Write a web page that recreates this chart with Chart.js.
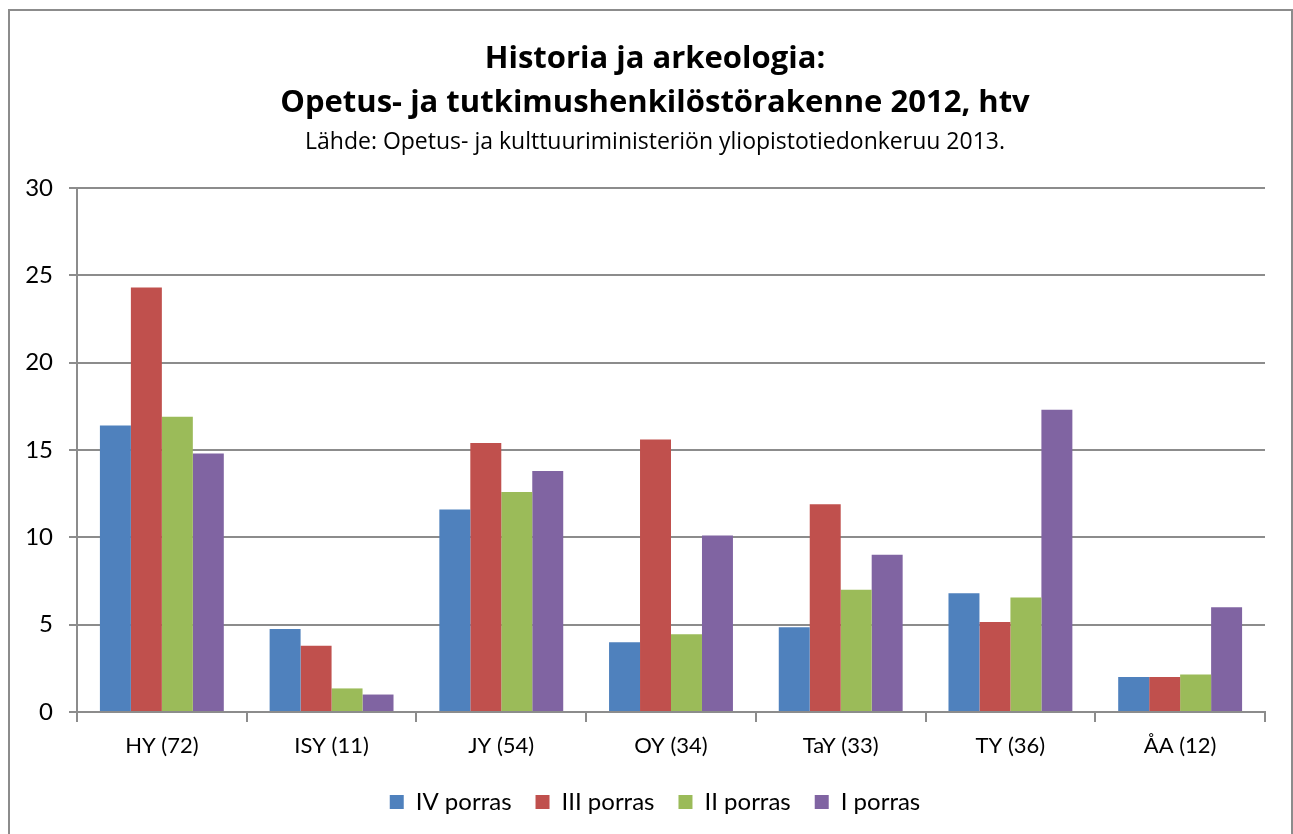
<!DOCTYPE html>
<html>
<head>
<meta charset="utf-8">
<script src="https://cdn.jsdelivr.net/npm/chart.js@4"></script>
<style>
  body { margin: 0; background: #fff; overflow: hidden; }
  #frame {
    position: absolute; left: 8px; top: 9px;
    width: 1281px; height: 830px;
    border: 2px solid #8c8c8c;
  }
</style>
</head>
<body>
<div id="frame"><canvas id="chart" width="1290" height="830"></canvas></div>
<script>
const categories = ['HY (72)', 'ISY (11)', 'JY (54)', 'OY (34)', 'TaY (33)', 'TY (36)', 'ÅA (12)'];
const porras4 = [16.4, 4.75, 11.6, 4.0, 4.85, 6.8, 2.0];
const porras3 = [24.3, 3.8, 15.4, 15.6, 11.9, 5.15, 2.0];
const porras2 = [16.9, 1.35, 12.6, 4.45, 7.0, 6.55, 2.15];
const porras1 = [14.8, 1.0, 13.8, 10.1, 9.0, 17.3, 6.0];
const yTicks = [0, 5, 10, 15, 20, 25, 30];

const FONT = 'Lato, "Open Sans", sans-serif';
const GRID = '#8c8c8c';

new Chart(document.getElementById('chart').getContext('2d'), {
    type: 'bar',
    data: {
        labels: categories,
        datasets: [
            { label: 'IV porras', data: porras4, backgroundColor: '#4F81BD' },
            { label: 'III porras', data: porras3, backgroundColor: '#C0504D' },
            { label: 'II porras', data: porras2, backgroundColor: '#9BBB59' },
            { label: 'I porras', data: porras1, backgroundColor: '#8064A2' }
        ]
    },
    options: {
        responsive: false,
        animation: false,
        datasets: { bar: { categoryPercentage: 0.73, barPercentage: 1.0 } },
        layout: { padding: { left: 0, right: 0, top: 0, bottom: 17 } },
        plugins: {
            title: {
                display: true,
                text: ['Historia ja arkeologia:', 'Opetus- ja tutkimushenkilöstörakenne 2012, htv'],
                color: '#000',
                font: { family: '"Open Sans", Lato, sans-serif', size: 31, weight: 'bold', lineHeight: '44px' },
                padding: { top: 26, bottom: 5 }
            },
            subtitle: {
                display: true,
                text: 'Lähde: Opetus- ja kulttuuriministeriön yliopistotiedonkeruu 2013.',
                color: '#000',
                font: { family: '"Open Sans", Lato, sans-serif', size: 23, lineHeight: '24px' },
                padding: { top: 0, bottom: 34 }
            },
            legend: {
                position: 'bottom',
                labels: {
                    color: '#000',
                    font: { family: FONT, size: 24 },
                    boxWidth: 14,
                    boxHeight: 14,
                    padding: 24
                }
            },
            tooltip: { enabled: false }
        },
        scales: {
            x: {
                grid: { drawOnChartArea: false, drawTicks: true, tickLength: 10, color: GRID, lineWidth: 2 },
                border: { color: GRID, width: 2 },
                ticks: { color: '#000', font: { family: FONT, size: 22 }, padding: 11 },
                afterFit: (scale) => { scale.height = 54; }
            },
            y: {
                min: 0,
                max: 30,
                afterBuildTicks: (scale) => { scale.ticks = yTicks.map(v => ({ value: v })); },
                grid: { color: GRID, lineWidth: 2, tickLength: 8 },
                border: { color: GRID, width: 2 },
                ticks: { color: '#000', font: { family: FONT, size: 24 }, padding: 16 },
                afterFit: (scale) => { scale.width = 67; }
            },
            // empty right-hand margin so that the title and legend centre like the original
            yRight: {
                position: 'right',
                display: true,
                grid: { display: false },
                border: { display: false },
                ticks: { display: false },
                afterFit: (scale) => { scale.width = 35; }
            }
        }
    }
});
</script>
</body>
</html>
